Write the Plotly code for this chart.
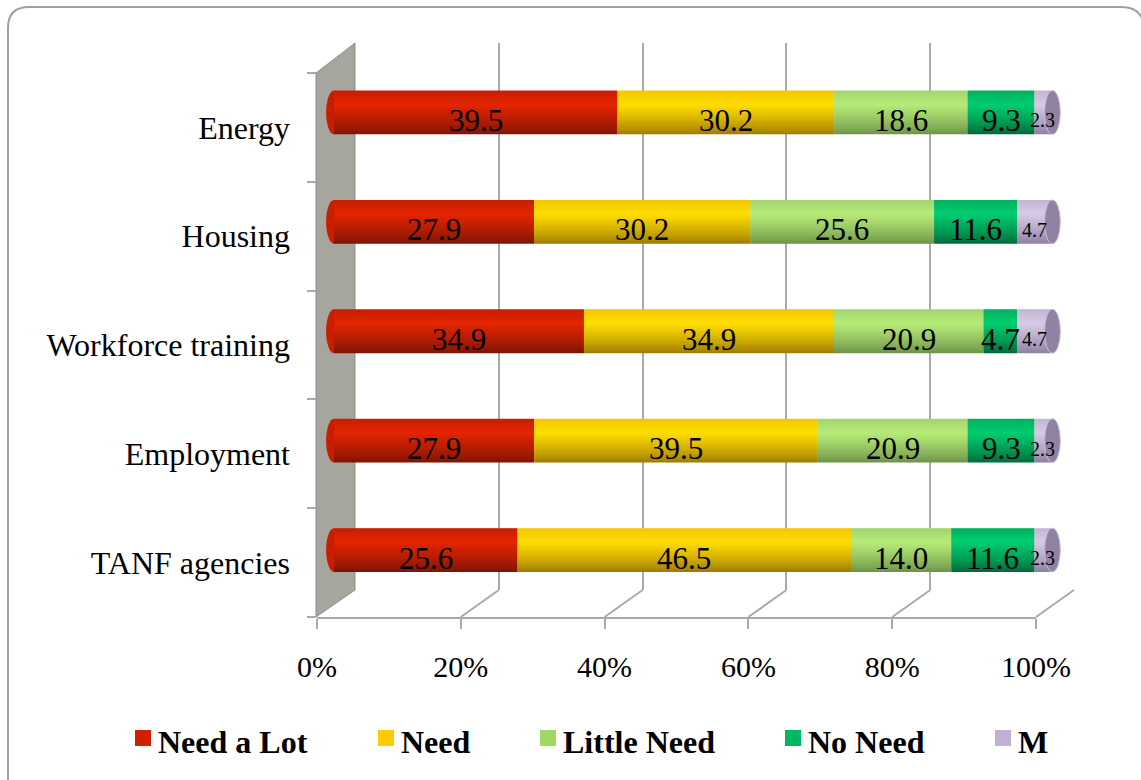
import numpy as np
import plotly.graph_objects as go

# ---- data -------------------------------------------------------------
categories = ["Energy", "Housing", "Workforce training", "Employment", "TANF agencies"]
series_names = ["Need a Lot", "Need", "Little Need", "No Need", "M"]
need_a_lot = [39.5, 27.9, 34.9, 27.9, 25.6]
need = [30.2, 30.2, 34.9, 39.5, 46.5]
little_need = [18.6, 25.6, 20.9, 20.9, 14.0]
no_need = [9.3, 11.6, 4.7, 9.3, 11.6]
missing = [2.3, 4.7, 4.7, 2.3, 2.3]
percent_ticks = [0, 20, 40, 60, 80, 100]
percent_labels = ["0%", "20%", "40%", "60%", "80%", "100%"]

# ---- styles -----------------------------------------------------------
# cylinder shading per series: (shadow at bottom, highlight, rim at top)
shading = [
    ("#7a1405", "#e42400", "#c81e00"),
    ("#9c7800", "#ffdd00", "#f2c800"),
    ("#6c9046", "#b6ec78", "#a2d46e"),
    ("#00673a", "#00cd6f", "#00b060"),
    ("#8a7d9e", "#d6cae6", "#c2b6d2"),
]
legend_colors = ["#d02000", "#ffcc00", "#a0d860", "#00b860", "#c0b0d4"]
label_sizes = [31, 31, 31, 31, 20]
SERIF = "Liberation Serif, Times New Roman, serif"
GRID = "#a9a9a9"

W, H = 1141, 780


def px(x):
    return x / W


def py(y):
    return 1 - y / H


def mix(c1, c2, f):
    a = np.array([int(c1[i:i + 2], 16) for i in (1, 3, 5)])
    b = np.array([int(c2[i:i + 2], 16) for i in (1, 3, 5)])
    c = np.round(a + (b - a) * f).astype(int)
    return "#%02x%02x%02x" % tuple(c)


def shade(s, t):
    dark, light, rim = shading[s]
    if t < 0.68:
        return mix(dark, light, (t / 0.68) ** 0.8)
    return mix(light, rim, (t - 0.68) / 0.32)


# ---- geometry of the pseudo-3D frame ----------------------------------
FRONT_X0, FRONT_X1 = 317, 1036      # front plane, 0% .. 100%
BACK_X0, BACK_X1 = 355, 1074        # back plane, 0% .. 100%
BACK_TOP, BACK_BOTTOM = 43, 590
FRONT_TOP, FRONT_BOTTOM = 73, 617
BAR_X0, BAR_X1 = 334, 1051          # bar axis (middle depth), 0% .. 100%
BAR_TOP, BAR_BOTTOM = 57.8, 604.7
BAR_W = 0.40
N_BANDS = 24
PAD = 4                              # axis padding (in %) so end caps are not clipped

bar_scale = (BAR_X1 - BAR_X0) / 100

order = categories[::-1]            # bottom-to-top
values = [need_a_lot, need, little_need, no_need, missing]
totals = np.sum(np.array(values), axis=0)
shares = [np.array(v) / totals * 100 for v in values]

fig = go.Figure()

# subplot order sets stacking: back grid (x/y), front axis (x2/y2), bars (x3/y3) on top
fig.add_trace(go.Scatter(x=[], y=[], xaxis="x", yaxis="y", showlegend=False, hoverinfo="skip"))
fig.add_trace(go.Scatter(x=[], y=[], xaxis="x2", yaxis="y2", showlegend=False, hoverinfo="skip"))

left = np.zeros(len(categories))
annotations = []
for s, name in enumerate(series_names):
    share = shares[s]
    band = BAR_W / N_BANDS
    for b in range(N_BANDS):
        t = (b + 0.5) / N_BANDS
        width = band if b == N_BANDS - 1 else band * 1.6
        fig.add_trace(go.Bar(
            y=categories, x=share, base=left, orientation="h",
            width=width, offset=-BAR_W / 2 + b * band,
            xaxis="x3", yaxis="y3",
            marker=dict(color=shade(s, t), line=dict(width=0)),
            name=name, showlegend=False, hoverinfo="skip",
        ))
    for i, cat in enumerate(categories):
        annotations.append(dict(
            x=left[i] + share[i] / 2, y=cat, xref="x3", yref="y3",
            text=f"{values[s][i]:.1f}", showarrow=False, yshift=-8,
            font=dict(family=SERIF, size=label_sizes[s], color="black"),
        ))
    left = left + share

shapes = []
# outer rounded frame
shapes.append(dict(
    type="path", xref="paper", yref="paper", layer="below",
    path=(f"M {px(8)},{py(790)} L {px(8)},{py(28)} Q {px(8)},{py(7)} {px(29)},{py(7)} "
          f"L {px(1121)},{py(7)} Q {px(1144)},{py(7)} {px(1144)},{py(30)} L {px(1144)},{py(790)}"),
    line=dict(color="#a0a0a0", width=2),
))
# side wall
shapes.append(dict(
    type="path", xref="paper", yref="paper", layer="below",
    path=(f"M {px(316)},{py(FRONT_TOP)} L {px(BACK_X0)},{py(BACK_TOP)} "
          f"L {px(BACK_X0)},{py(BACK_BOTTOM)} L {px(316)},{py(FRONT_BOTTOM)} Z"),
    fillcolor="#a6a69e", line=dict(color="#8f8f88", width=1),
))
# floor lines joining back grid to front ticks
for v in percent_ticks[1:]:
    xb = BACK_X0 + (BACK_X1 - BACK_X0) * v / 100
    xf = FRONT_X0 + (FRONT_X1 - FRONT_X0) * v / 100
    shapes.append(dict(
        type="line", xref="paper", yref="paper", layer="below",
        x0=px(xb), y0=py(BACK_BOTTOM), x1=px(xf), y1=py(FRONT_BOTTOM),
        line=dict(color=GRID, width=2),
    ))
# cylinder end caps
for i, cat in enumerate(categories):
    k = order.index(cat)
    shapes.append(dict(
        type="circle", xref="x3", yref="y3", layer="below",
        x0=-1.1, x1=1.1, y0=k - BAR_W / 2, y1=k + BAR_W / 2,
        fillcolor="#c81e00", line=dict(width=0),
    ))
    shapes.append(dict(
        type="circle", xref="x3", yref="y3", layer="above",
        x0=float(left[i]) - 0.9, x1=float(left[i]) + 1.3,
        y0=k - BAR_W / 2, y1=k + BAR_W / 2,
        fillcolor="#8f82a3", line=dict(color="#c9bedb", width=1),
    ))

# legend drawn as swatches + labels
legend_sq_x = [135, 378, 540, 785, 995]
for s, name in enumerate(series_names):
    x0 = legend_sq_x[s]
    shapes.append(dict(
        type="rect", xref="paper", yref="paper",
        x0=px(x0), x1=px(x0 + 16), y0=py(746), y1=py(730),
        fillcolor=legend_colors[s], line=dict(width=0),
    ))
    annotations.append(dict(
        x=px(x0 + 21), y=py(742), xref="paper", yref="paper",
        xanchor="left", yanchor="middle", showarrow=False, text=f"<b>{name}</b>",
        font=dict(family=SERIF, size=32, color="black"),
    ))

fig.update_layout(
    width=W, height=H, margin=dict(l=0, r=0, t=0, b=0, autoexpand=False),
    paper_bgcolor="white", plot_bgcolor="rgba(0,0,0,0)",
    barmode="overlay", showlegend=False,
    font=dict(family=SERIF, color="black"),
    shapes=shapes, annotations=annotations,
    # back plane: vertical grid lines
    xaxis=dict(domain=[px(BACK_X0), px(BACK_X1)], range=[0, 100], anchor="y",
               tickvals=percent_ticks, showgrid=True, gridcolor=GRID, gridwidth=2,
               showticklabels=False, ticks="", zeroline=False, showline=False,
               automargin=False),
    yaxis=dict(domain=[py(BACK_BOTTOM), py(BACK_TOP)], range=[0, 1], anchor="x",
               visible=False),
    # front plane: percent axis and category labels
    xaxis2=dict(domain=[px(FRONT_X0), px(FRONT_X1)], range=[0, 100], anchor="y2",
                tickvals=percent_ticks, ticktext=percent_labels, ticks="outside", ticklen=10,
                tickwidth=2, tickcolor=GRID, showline=True, linecolor=GRID, linewidth=2,
                showgrid=False, zeroline=False, ticklabelstandoff=12, automargin=False,
                tickfont=dict(family=SERIF, size=30, color="black")),
    yaxis2=dict(domain=[py(FRONT_BOTTOM), py(FRONT_TOP)], range=[-0.5, len(order) - 0.5],
                anchor="x2", tickvals=list(range(len(order))), ticktext=order,
                ticks="", showline=False, showgrid=False, zeroline=False,
                ticklabelstandoff=26, automargin=False,
                minor=dict(tickvals=[k - 0.5 for k in range(len(order) + 1)],
                           ticks="outside", ticklen=9, tickwidth=2, tickcolor=GRID),
                tickfont=dict(family=SERIF, size=32, color="black")),
    # bars (middle depth)
    xaxis3=dict(domain=[px(BAR_X0 - PAD * bar_scale), px(BAR_X1 + PAD * bar_scale)],
                range=[-PAD, 100 + PAD], anchor="y3", visible=False),
    yaxis3=dict(domain=[py(BAR_BOTTOM), py(BAR_TOP)], type="category", anchor="x3",
                categoryorder="array", categoryarray=order,
                range=[-0.5, len(order) - 0.5], visible=False),
)

fig.write_html("out.html")
